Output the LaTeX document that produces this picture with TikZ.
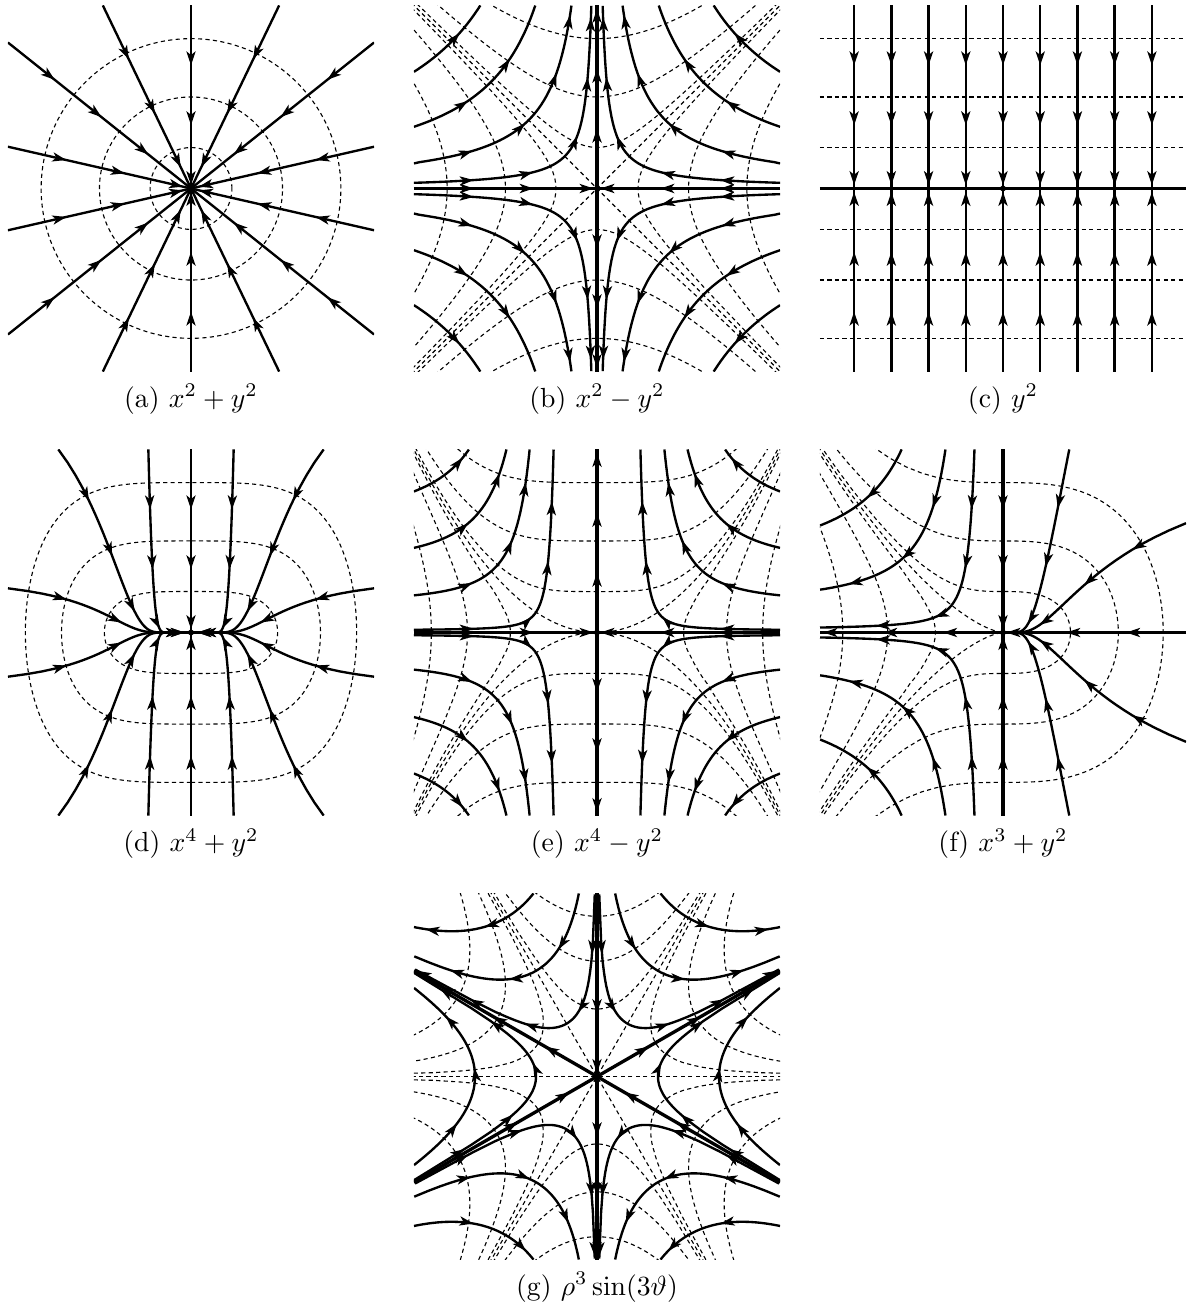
\documentclass[tikz,border=0pt]{standalone}
\usepackage{amsmath}
\usetikzlibrary{arrows.meta, decorations.markings}

\begin{document}
\begin{tikzpicture}[x=0.0127cm, y=0.0127cm, samples=60,
    panel/.style={x=2.3241cm, y=2.3241cm},
    flowline/.style={line width=0.85pt, postaction={decorate},
      decoration={markings, mark=between positions 0.76cm and 1 step 0.76cm
        with {\arrow{Stealth[length=5pt, width=3.3pt, inset=1.3pt]}}}},
    sepx/.style={flowline, line width=1.2pt},
    lvl/.style={line width=0.4pt, dash pattern=on 1.5pt off 1.2pt},
    capt/.style={anchor=base, font=\normalsize}
  ]
  \useasboundingbox (0,0) rectangle (1188,-1311);

  % (a) x^2+y^2
  \begin{scope}[shift={(191,-188.5)}, panel]
    \clip (-1,-1) rectangle (1,1);
    \foreach \k in {0.05,0.25,0.67}
      \draw[lvl] (0,0) circle ({sqrt(\k)});
    \foreach \i in {0,...,13} {
      \pgfmathsetmacro{\ang}{90+\i*360/14}
      \pgfmathsetmacro{\rad}{1/max(abs(cos(\ang)),abs(sin(\ang)))}
      \draw[flowline] (\ang:\rad) -- (0,0);
    }
    \fill (0,0) circle (0.016);
  \end{scope}

  % (b) x^2-y^2
  \begin{scope}[shift={(597,-188.5)}, panel]
    \clip (-1,-1) rectangle (1,1);
    \draw[lvl] (-1.1,-1.1) -- (1.1,1.1);
    \draw[lvl] (-1.1,1.1) -- (1.1,-1.1);
    \foreach \k in {0.05,0.25,0.67} {
      \draw[lvl] plot[domain=-1.1:1.1] ({sqrt(\k+\x*\x)},\x);
      \draw[lvl] plot[domain=-1.1:1.1] ({-sqrt(\k+\x*\x)},\x);
      \draw[lvl] plot[domain=-1.1:1.1] (\x,{sqrt(\k+\x*\x)});
      \draw[lvl] plot[domain=-1.1:1.1] (\x,{-sqrt(\k+\x*\x)});
    }
    \foreach \c in {0.031,0.137,0.337,0.637}
      \foreach \sx/\sy in {-1/1,1/1,-1/-1,1/-1}
        \draw[flowline] plot[domain=0:1] ({\sx*pow(\c,\x)},{\sy*pow(\c,1-\x)});
    \draw[sepx] (-1,0) -- (0,0);
    \draw[sepx] (1,0) -- (0,0);
    \draw[sepx] (0,0) -- (0,1);
    \draw[sepx] (0,0) -- (0,-1);
    \fill (0,0) circle (0.016);
  \end{scope}

  % (c) y^2
  \begin{scope}[shift={(1003,-188.5)}, panel]
    \clip (-1,-1) rectangle (1,1);
    \foreach \k in {0.05,0.25,0.67} {
      \draw[lvl] (-1,{sqrt(\k)}) -- (1,{sqrt(\k)});
      \draw[lvl] (-1,{-sqrt(\k)}) -- (1,{-sqrt(\k)});
    }
    \foreach \i in {-4,...,4} {
      \draw[flowline] ({\i*0.2033},1) -- ({\i*0.2033},0);
      \draw[flowline] ({\i*0.2033},-1) -- ({\i*0.2033},0);
    }
    \draw[line width=1.3pt] (-1,0) -- (1,0);
    \fill (0,0) circle (0.016);
  \end{scope}

  % (d) x^4+y^2
  \begin{scope}[shift={(191,-632.5)}, panel]
    \clip (-1,-1) rectangle (1,1);
    \foreach \k in {0.05,0.25,0.67} {
      \pgfmathsetmacro{\ka}{pow(\k,0.25)}
      \pgfmathsetmacro{\kw}{sqrt(\ka)}
      \draw[lvl] plot[domain=-\kw:\kw, samples=80]
        ({\ka-\x*\x},{\x*sqrt(4*\ka*\ka*\ka-6*\ka*\ka*\x*\x+4*\ka*\x*\x*\x*\x-\x*\x*\x*\x*\x*\x)});
      \draw[lvl] plot[domain=-\kw:\kw, samples=80]
        ({\x*\x-\ka},{\x*sqrt(4*\ka*\ka*\ka-6*\ka*\ka*\x*\x+4*\ka*\x*\x*\x*\x-\x*\x*\x*\x*\x*\x)});
    }
    \foreach \lA/\ts in {4.605/0, 0.476/0, -1.171/1.421}
      \foreach \sx/\sy in {-1/1,1/1,-1/-1,1/-1}
        \draw[flowline] plot[domain=\ts:9, samples=120]
          ({\sx/(2*sqrt(\lA+\x))},{\sy*exp(-\x)}) -- (0,0);
    \draw[flowline] (0,1) -- (0,0);
    \draw[flowline] (0,-1) -- (0,0);
    \fill (0,0) circle (0.016);
  \end{scope}

  % (e) x^4-y^2
  \begin{scope}[shift={(597,-632.5)}, panel]
    \clip (-1,-1) rectangle (1,1);
    \draw[lvl] plot[domain=-1.1:1.1] (\x,{\x*\x});
    \draw[lvl] plot[domain=-1.1:1.1] (\x,{-\x*\x});
    \foreach \k in {0.05,0.25,0.67} {
      \draw[lvl] plot[domain=-1.1:1.1] ({pow(\x*\x+\k,0.25)},\x);
      \draw[lvl] plot[domain=-1.1:1.1] ({-pow(\x*\x+\k,0.25)},\x);
      \draw[lvl] plot[domain=-1.1:1.1] (\x,{sqrt(\x*\x*\x*\x+\k)});
      \draw[lvl] plot[domain=-1.1:1.1] (\x,{-sqrt(\x*\x*\x*\x+\k)});
    }
    \foreach \fa/\ue in {0.0117/4.448, 0.158/1.845, 0.36/1.022, 0.6/0.511}
      \foreach \sx/\sy in {-1/1,1/1,-1/-1,1/-1}
        \draw[flowline] plot[domain=0.25:\ue, samples=80]
          ({\sx/(2*sqrt(\x))},{\sy*\fa*exp(\x)});
    \draw[sepx] (-1,0) -- (0,0);
    \draw[sepx] (1,0) -- (0,0);
    \draw[sepx] (0,0) -- (0,1);
    \draw[sepx] (0,0) -- (0,-1);
    \fill (0,0) circle (0.016);
  \end{scope}

  % (f) x^3+y^2
  \begin{scope}[shift={(1003,-632.5)}, panel]
    \clip (-1,-1) rectangle (1,1);
    \draw[lvl] plot[domain=-1.05:1.05] ({-\x*\x},{\x*\x*\x});
    \foreach \k in {0.05,0.25,0.67} {
      \pgfmathsetmacro{\ka}{pow(\k,1/3)}
      \pgfmathsetmacro{\kw}{sqrt(\ka+1.2)}
      \draw[lvl] plot[domain=-\kw:\kw, samples=80]
        ({\ka-\x*\x},{\x*sqrt(3*\ka*\ka-3*\ka*\x*\x+\x*\x*\x*\x)});
      \draw[lvl] plot[domain=-1.1:1.1] ({-pow(\x*\x+\k,1/3)},\x);
    }
    \foreach \lA/\ts in {0.151/0.516, 1.842/0}
      \foreach \sy in {1,-1}
        \draw[flowline] plot[domain=\ts:6, samples=80]
          ({2/(3*(\lA+\x))},{\sy*exp(-\x)}) -- (0,0);
    \foreach \fa/\us in {0.0139/4.276, 0.12/2.120, 0.30/1.204}
      \foreach \sy in {1,-1}
        \draw[flowline] plot[domain=\us:0.6667, samples=80]
          ({-2/(3*\x)},{\sy*\fa*exp(\x)});
    \draw[sepx] (0,1) -- (0,0);
    \draw[sepx] (0,-1) -- (0,0);
    \draw[flowline] (1,0) -- (0,0);
    \draw[flowline] (0,0) -- (-1,0);
    \fill (0,0) circle (0.016);
  \end{scope}

  % (g) rho^3 sin(3 theta)
  \begin{scope}[shift={(597,-1076.5)}, panel]
    \clip (-1,-1) rectangle (1,1);
    \foreach \ang in {0,60,120}
      \draw[lvl] (\ang:1.5) -- (\ang+180:1.5);
    \foreach \j in {0,...,5}
      \foreach \k in {0.05,0.25,0.67} {
        \pgfmathsetmacro{\psm}{acos(\k/3.05)/3}
        \draw[lvl] plot[domain=-\psm:\psm]
          ({30+60*\j+\x}:{pow(\k/cos(3*\x),1/3)});
      }
    \foreach \r/\hw in {0.3333/29.54, 0.6667/25.84} {
      \draw[flowline] plot[domain=-\hw:\hw] ({\x}:{\r/pow(cos(3*\x),1/3)});
      \draw[flowline] plot[domain=\hw:-\hw] ({180+\x}:{\r/pow(cos(3*\x),1/3)});
    }
    \foreach \r/\tht/\thr in {0.3333/89.29/30.46, 0.6667/84.34/33.32, 1/70.86/39.23} {
      \draw[flowline] plot[domain=\tht:\thr] ({\x}:{\r/pow(cos(3*(\x-60)),1/3)});
      \draw[flowline] plot[domain=180-\tht:180-\thr] ({\x}:{\r/pow(cos(3*(\x-120)),1/3)});
      \draw[flowline] plot[domain=180+\thr:180+\tht] ({\x}:{\r/pow(cos(3*(\x-240)),1/3)});
      \draw[flowline] plot[domain=360-\thr:360-\tht] ({\x}:{\r/pow(cos(3*(\x-300)),1/3)});
    }
    \draw[sepx] (90:1) -- (0,0);
    \draw[sepx] (210:1.1547) -- (0,0);
    \draw[sepx] (330:1.1547) -- (0,0);
    \draw[sepx] (0,0) -- (30:1.1547);
    \draw[sepx] (0,0) -- (150:1.1547);
    \draw[sepx] (0,0) -- (270:1);
  \end{scope}

  % captions
  \node[capt] (capa) at (191,-407) {(a) $x^2+y^2$};
  \node[capt] (capb) at (597,-407) {(b) $x^2-y^2$};
  \node[capt] (capc) at (1003,-407) {(c) $y^2$};
  \node[capt] (capd) at (191,-851.5) {(d) $x^4+y^2$};
  \node[capt] (cape) at (597,-851.5) {(e) $x^4-y^2$};
  \node[capt] (capf) at (1003,-851.5) {(f) $x^3+y^2$};
  \node[capt] (capg) at (597,-1295) {(g) $\rho^3\sin(3\vartheta)$};
\end{tikzpicture}
\end{document}
